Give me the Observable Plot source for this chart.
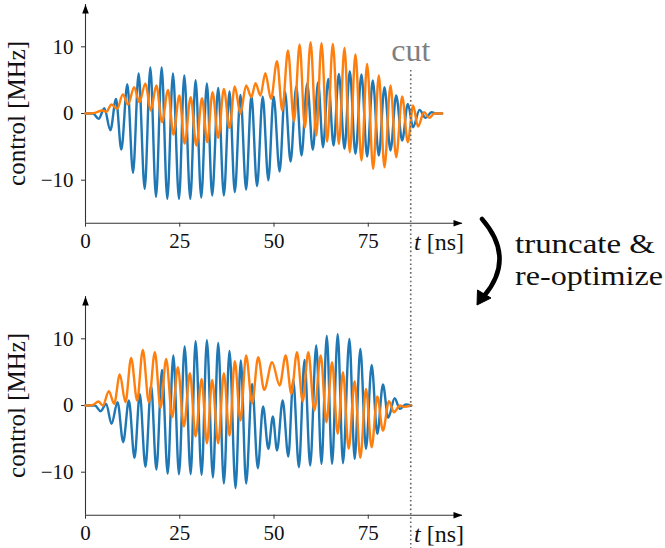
<!DOCTYPE html>
<html><head><meta charset="utf-8">
<script src="https://cdn.jsdelivr.net/npm/d3@7"></script>
<script src="https://cdn.jsdelivr.net/npm/@observablehq/plot@0.6"></script>
<style>
body{margin:0;background:#fff;}
#chart{position:relative;width:665px;height:548px;font-family:"Liberation Serif","DejaVu Serif",serif;overflow:hidden;}
#chart > svg{position:absolute;left:0;overflow:visible;}
</style></head><body><div id="chart"></div>
<script>
// extrema: [time ns, control MHz]
const topBlue = [[0,0],[2,0],[3.5,-0.8],[5.0,0.8],[6.6,-2.5],[8.1,2.2],[9.5,-5.4],[11.1,4.4],[12.6,-8.9],[14.1,6.0],[15.7,-11.3],[17.2,6.9],[18.7,-12.5],[20.2,6.9],[21.7,-12.8],[23.2,6.0],[24.8,-12.8],[26.2,5.7],[27.8,-12.8],[29.2,5.0],[30.7,-12.6],[32.2,4.5],[33.6,-12.3],[35.2,3.85],[36.7,-12.3],[38.2,3.3],[39.6,-11.8],[41.1,2.8],[42.6,-11.4],[44.0,2.7],[45.5,-10.9],[47.0,2.55],[48.5,-10.0],[49.9,2.55],[51.5,-8.7],[52.9,3.3],[54.4,-7.2],[55.9,4.05],[57.3,-6.3],[58.8,4.5],[60.3,-5.45],[61.7,4.7],[63.0,-5.05],[64.4,5.2],[65.8,-4.8],[67.2,5.95],[68.7,-5.3],[70.1,6.35],[71.6,-6.05],[73.2,5.85],[74.7,-6.45],[76.2,4.95],[77.8,-6.3],[79.3,3.95],[80.9,-5.55],[82.4,2.7],[84.0,-4.05],[85.5,1.45],[86.9,-2.05],[88.6,0.55],[90.2,-0.65],[91.8,0.2],[93,0],[94.6,0]];
const topOrange = [[0,0],[2.5,0.1],[4.4,0.45],[5.5,0.25],[6.9,1.35],[8.4,0.7],[9.9,2.85],[11.3,1.35],[12.9,3.95],[14.3,1.7],[15.9,4.5],[17.3,0.45],[18.8,4.2],[20.3,-1.3],[21.9,3.55],[23.3,-3.15],[24.9,2.7],[26.3,-4.5],[27.9,2.45],[29.4,-4.8],[30.9,2.3],[32.3,-4.3],[33.7,3.2],[35.2,-3.65],[36.7,3.7],[38.2,-2.15],[39.6,4.05],[41.1,-0.05],[42.6,4.2],[44.0,2.45],[45.1,4.55],[46.4,2.7],[47.7,6.05],[49.2,2.2],[50.8,7.85],[52.2,0.45],[53.7,9.45],[55.3,-1.15],[56.8,10.35],[58.2,-2.15],[59.7,10.7],[61.2,-3.3],[62.6,10.55],[64.1,-4.2],[65.6,10.45],[67.2,-4.55],[68.7,9.85],[70.1,-5.8],[71.6,8.85],[73.2,-7.05],[74.7,7.45],[76.3,-8.3],[77.8,5.7],[79.3,-8.05],[80.9,4.2],[82.4,-6.55],[84.0,2.55],[85.5,-4.3],[86.9,1.2],[88.2,-1.95],[89.8,0.2],[91.2,-0.65],[92.5,0],[94.6,0]];
const bottomBlue = [[0,0],[2.5,0],[4.0,-0.85],[5.5,0.25],[6.9,-2.75],[8.5,0.5],[10.0,-5.5],[11.5,0.75],[13.0,-7.85],[14.4,1.75],[15.9,-9.2],[17.4,3.0],[18.8,-9.6],[20.3,5.35],[21.8,-10.2],[23.3,7.5],[24.8,-10.3],[26.3,8.85],[27.9,-10.3],[29.2,9.65],[30.8,-10.4],[32.2,9.8],[33.8,-10.8],[35.2,9.4],[36.7,-11.7],[38.2,8.2],[39.8,-12.4],[41.2,6.75],[42.6,-11.7],[44.2,3.25],[45.7,-9.4],[47.1,-0.15],[48.5,-6.5],[49.7,-1.65],[50.8,-6.75],[52.3,0.75],[53.8,-7.65],[55.1,3.85],[56.6,-9.25],[58.1,6.85],[59.6,-9.0],[61.2,9.0],[62.6,-8.75],[64.0,10.45],[65.4,-8.75],[66.9,10.7],[68.3,-8.65],[70.0,10.0],[71.4,-8.0],[72.9,8.5],[74.4,-6.5],[75.9,6.1],[77.4,-4.25],[78.9,3.15],[80.3,-1.85],[82.0,1.1],[83.4,-0.5],[84.9,0.15],[86.4,0]];
const bottomOrange = [[0,0],[2.0,0.1],[3.4,0.6],[4.6,0],[6.2,2.15],[7.6,0.25],[9.1,4.65],[10.6,0.5],[12.1,7.15],[13.7,0.75],[15.2,8.35],[16.8,0.5],[18.4,8.0],[19.9,-0.35],[21.4,7.0],[23.0,-1.75],[24.5,5.75],[26.1,-3.15],[27.7,4.85],[29.2,-4.65],[30.8,4.0],[32.2,-5.65],[33.6,3.85],[35.2,-5.65],[36.7,4.85],[38.2,-4.5],[39.6,6.65],[41.1,-2.25],[42.6,7.5],[44.2,0.35],[45.8,7.25],[47.4,2.35],[49.5,6.5],[51.5,3.0],[53.1,7.5],[54.6,1.75],[56.1,8.0],[57.6,0.65],[59.1,8.0],[60.7,-0.75],[62.4,7.5],[63.9,-2.5],[65.4,6.5],[66.9,-4.25],[68.3,5.0],[69.8,-6.5],[71.4,3.65],[72.9,-7.85],[74.4,2.5],[75.9,-6.25],[77.4,1.35],[78.9,-3.75],[80.5,0.65],[81.8,-1.0],[83.4,0],[84.5,-0.2],[86.4,0]];

const xTicks = [0, 25, 50, 75];
const yTicks = [-10, 0, 10];
const xDomain = [0, 100];
const yDomain = [-16.45, 16.35];
const cutTime = 86.4;
const yLabel = "control [MHz]";
const xLabelVar = "t";
const xLabelUnit = " [ns]";
const cutLabel = "cut";
const stepLines = ["truncate &", "re-optimize"];

const blue = "#1f77b4", orange = "#ff7f0e", axisColor = "#333", textColor = "#111";
const FONT = "Liberation Serif, DejaVu Serif, serif";
const arrowHead = {draw(ctx) { ctx.moveTo(0, 0); ctx.lineTo(-3.3, 9); ctx.lineTo(3.3, 9); ctx.closePath(); }};

function panel(blueData, orangeData) {
  const svg = Plot.plot({
    width: 480, height: 260,
    marginLeft: 85, marginRight: 18, marginTop: 4, marginBottom: 37.3,
    x: {domain: xDomain},
    y: {domain: yDomain},
    style: {fontFamily: FONT, fontSize: "20px", color: textColor, background: "transparent", overflow: "visible"},
    marks: [
      Plot.axisX({ticks: xTicks, tickSize: 4, tickPadding: 5.5, label: null, stroke: axisColor, fontFamily: FONT, fontSize: 21}),
      Plot.axisY({ticks: yTicks, tickSize: 4, tickPadding: 8, label: null, stroke: axisColor, fontFamily: FONT, fontSize: 21}),
      Plot.ruleX([xDomain[0]], {y1: yDomain[0], y2: yDomain[1], stroke: axisColor, strokeWidth: 1.1}),
      Plot.ruleY([yDomain[0]], {x1: xDomain[0], x2: xDomain[1], stroke: axisColor, strokeWidth: 1.1}),
      Plot.dot([[xDomain[1], yDomain[0]]], {x: d => d[0], y: d => d[1], symbol: arrowHead, rotate: 90, fill: "#000", r: 4}),
      Plot.dot([[xDomain[0], yDomain[1]]], {x: d => d[0], y: d => d[1], symbol: arrowHead, rotate: 0, fill: "#000", r: 4}),
      Plot.line(blueData, {x: d => d[0], y: d => d[1], stroke: blue, strokeWidth: 2.4, curve: "monotone-x"}),
      Plot.line(orangeData, {x: d => d[0], y: d => d[1], stroke: orange, strokeWidth: 2.4, curve: "monotone-x"})
    ]
  });
  const sx = svg.scale("x"), sy = svg.scale("y");
  const s = d3.select(svg);
  const ymid = (sy.apply(yDomain[0]) + sy.apply(yDomain[1])) / 2;
  s.append("text")
    .attr("transform", `translate(25,${ymid}) rotate(-90)`)
    .attr("text-anchor", "middle")
    .style("font-family", FONT).style("font-size", "25px").attr("fill", textColor)
    .text(yLabel);
  const xl = s.append("text")
    .attr("x", sx.apply(xDomain[1]) + 2).attr("y", sy.apply(yDomain[0]) + 27.5)
    .attr("text-anchor", "end")
    .style("font-family", FONT).style("font-size", "24px").attr("fill", textColor);
  xl.append("tspan").style("font-style", "italic").text(xLabelVar);
  xl.append("tspan").text(xLabelUnit);
  return svg;
}

const chart = document.getElementById("chart");
const topSvg = panel(topBlue, topOrange);
topSvg.style.top = "0px";
chart.appendChild(topSvg);
const botSvg = panel(bottomBlue, bottomOrange);
botSvg.style.top = "292px";
chart.appendChild(botSvg);

const cutX = topSvg.scale("x").apply(cutTime);
const ov = d3.select(chart).append("svg")
  .attr("width", 665).attr("height", 548)
  .style("top", "0px").style("pointer-events", "none");
ov.append("line")
  .attr("x1", cutX).attr("x2", cutX).attr("y1", 70).attr("y2", 548)
  .attr("stroke", "#666").attr("stroke-width", 1.6).attr("stroke-dasharray", "1.6,2.7");
ov.append("text")
  .attr("x", cutX).attr("y", 60.5).attr("text-anchor", "middle")
  .style("font-family", FONT).style("font-size", "32px").attr("fill", "#7f7f7f")
  .text(cutLabel);
ov.append("path")
  .attr("d", "M482,219 Q516,258 484,296")
  .attr("fill", "none").attr("stroke", "#000").attr("stroke-width", 4.5).attr("stroke-linecap", "round");
ov.append("path")
  .attr("d", "M477,305 L477.5,290 L491,298 Z")
  .attr("fill", "#000").attr("stroke", "#000").attr("stroke-width", 1).attr("stroke-linejoin", "round");
const lineWidths = [140, 148];
stepLines.forEach((l, i) => ov.append("text")
  .attr("x", 515).attr("y", 253 + i * 31.5)
  .attr("textLength", lineWidths[i]).attr("lengthAdjust", "spacingAndGlyphs")
  .style("font-family", FONT).style("font-size", "28px").attr("fill", textColor)
  .text(l));
</script></body></html>
